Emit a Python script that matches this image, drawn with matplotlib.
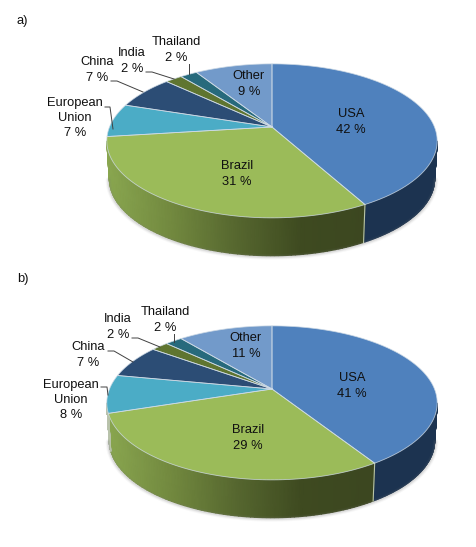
import matplotlib
matplotlib.use('Agg')
import matplotlib.pyplot as plt
from matplotlib.colors import LinearSegmentedColormap
import numpy as np

plt.rcParams['font.family'] = ['Liberation Sans', 'DejaVu Sans']

# Data
countries = ['USA', 'Brazil', 'European\nUnion', 'China', 'India', 'Thailand', 'Other']
shares_a = [42, 31, 7, 7, 2, 2, 9]
shares_b = [41, 29, 8, 7, 2, 2, 11]

top_colors = ['#4f81bd', '#9bbb59', '#4bacc6', '#2c4d75', '#5f7530', '#276a7c', '#729aca']
# wall colours, left end to right end
wall_colors = [('#1c3350', '#1c3350'), ('#8aa750', '#72893f', '#56672f', '#3e4a20', '#3c4720'),
               ('#b9c2ad', '#b9c2ad'), ('#1c3350', '#1c3350'), ('#3c4720', '#3c4720'),
               ('#1c4550', '#1c4550'), ('#47648a', '#47648a')]

# label centres, in pixels of the picture
label_pos_a = [(351, 122), (237, 174), (75, 118), (97, 70), (132, 61), (176, 50), (249, 84)]
label_pos_b = [(352, 386), (248, 438), (71, 400), (88, 355), (118, 327), (165, 320), (246, 346)]

# leader lines for the small slices
leaders_a = [[(105, 107), (110, 107), (113, 129)],
             [(111, 81), (117, 81), (143, 92)],
             [(146, 72), (152, 72), (174, 79)],
             [(189, 64), (189, 74)]]
leaders_b = [[(101, 387), (107, 387), (108, 395)],
             [(108, 351), (114, 351), (133, 362)],
             [(132, 338), (138, 338), (160, 347)],
             [(174, 334), (174, 342)]]

CX = 272
RX = 162.5
RY = 74.5
TILT = 0.18
DEPTH = 38
WALL_START = np.arccos(-TILT)
WALL_STOP = 2 * np.pi - WALL_START


def project(theta, cy, shrink=1.0):
    # circle seen in perspective, theta clockwise from the top
    u = np.sin(theta)
    v = np.cos(theta)
    w = 1 + TILT * v
    return CX + shrink * RX * u / w, cy - RY * v / w


def draw_pie(ax, shares, cy, label_pos, leaders):
    edges = np.cumsum([0] + shares) / sum(shares) * 2 * np.pi

    # soft shadow under the wall
    th = np.linspace(WALL_START, WALL_STOP, 200)
    sx, sy = project(th, cy + DEPTH + 1, 0.99)
    for lw, a in [(4, 0.06), (2.5, 0.10), (1.2, 0.14)]:
        ax.plot(sx, sy, color='#808080', lw=lw, alpha=a, solid_capstyle='round')

    # side walls, front half only
    for i in range(len(shares)):
        start = max(edges[i], WALL_START)
        stop = min(edges[i + 1], WALL_STOP)
        if stop <= start:
            continue
        th = np.linspace(start, stop, 90)
        x0, y0 = project(th, cy)
        x1, y1 = project(th, cy + DEPTH, 0.985)
        X = np.array([x0, x1])
        Y = np.array([y0, y1])
        cmap = LinearSegmentedColormap.from_list('wall', wall_colors[i])
        ax.pcolormesh(X, Y, (X - 106) / 262, shading='gouraud', cmap=cmap, vmin=0, vmax=1)
        if edges[i + 1] < WALL_STOP:
            ax.plot([x0[-1], x1[-1]], [y0[-1], y1[-1]], color='#b8c4a8', lw=0.8)

    # top face
    for i in range(len(shares)):
        th = np.linspace(edges[i], edges[i + 1], 80)
        x, y = project(th, cy)
        ax.fill(np.r_[CX, x], np.r_[cy, y], facecolor=top_colors[i], edgecolor='none')
        ax.plot(np.r_[CX, x, CX], np.r_[cy, y, cy], color='#cfdbe6', lw=0.6, alpha=0.8)

    for i, name in enumerate(countries):
        ax.text(label_pos[i][0], label_pos[i][1], f'{name}\n{shares[i]} %',
                ha='center', va='center', fontsize=9.3, color='#101010', linespacing=1.36)

    for pts in leaders:
        xs, ys = zip(*pts)
        ax.plot(xs, ys, color='#404040', lw=0.7)


fig = plt.figure(figsize=(4.77, 5.47), dpi=100)
ax = fig.add_axes([0, 0, 1, 1])
ax.set_xlim(0, 477)
ax.set_ylim(547, 0)
ax.axis('off')

draw_pie(ax, shares_a, 127, label_pos_a, leaders_a)
draw_pie(ax, shares_b, 389, label_pos_b, leaders_b)

ax.text(17, 21, 'a)', ha='left', va='center', fontsize=9.3, color='#101010')
ax.text(17, 279, 'b)', ha='left', va='center', fontsize=9.3, color='#101010')

plt.savefig('out.png', dpi=100)
